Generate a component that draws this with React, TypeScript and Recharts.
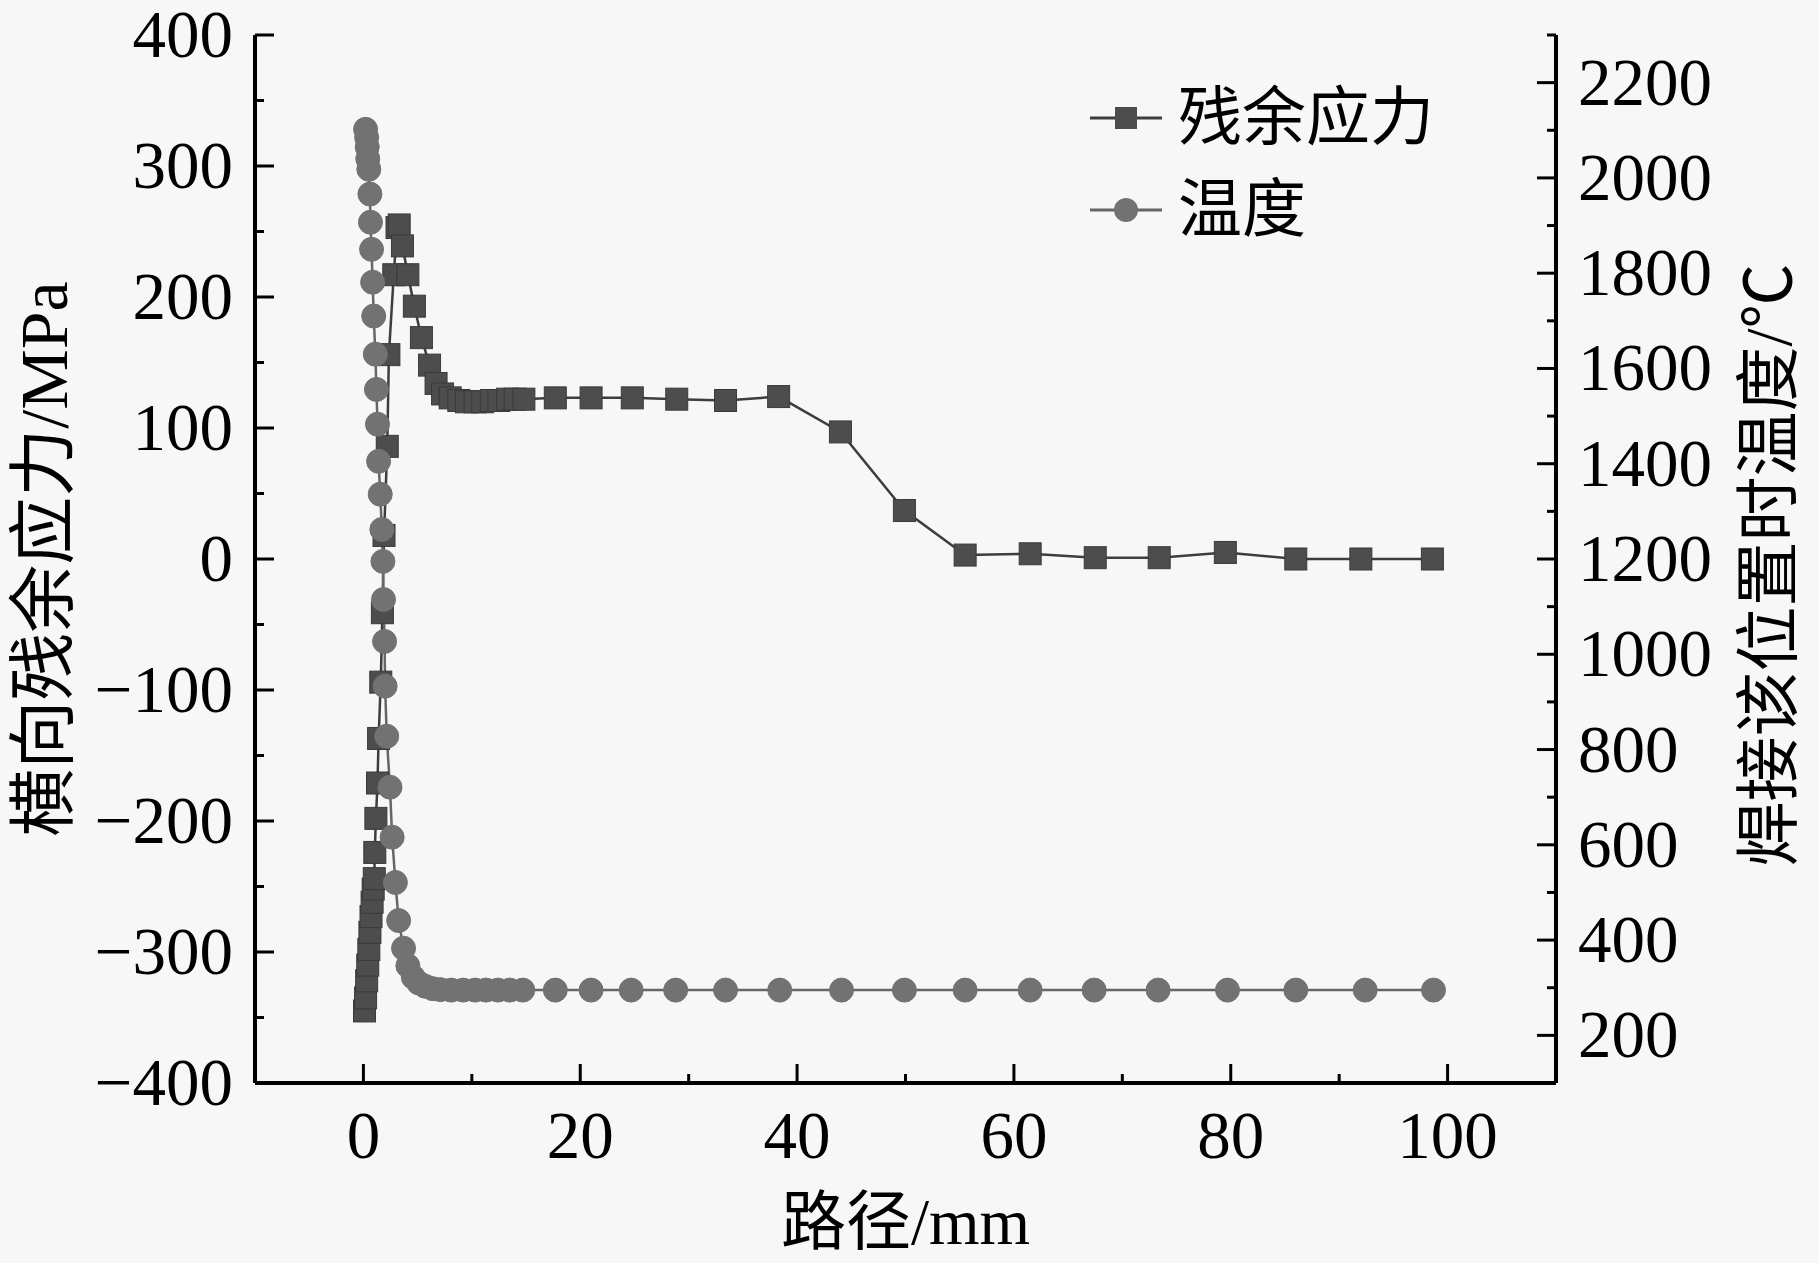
import { LineChart, Line, XAxis, YAxis, Legend } from 'recharts'

const FONT = '"Liberation Serif", "Times New Roman", "Noto Sans CJK SC", serif'

// 残余应力 (MPa) along the path (mm)
const stressX = [
  0.1, 0.2, 0.3, 0.4, 0.5, 0.6, 0.7, 0.8, 0.9, 1.0, 1.05, 1.15, 1.3, 1.4, 1.6, 1.75, 1.9, 2.2,
  2.35, 2.8, 3.1, 3.3, 3.6, 4.1, 4.7, 5.35, 6.1, 6.7, 7.3, 8.0, 8.8, 9.5, 10.3, 11.0, 11.8,
  12.5, 13.3, 14.0, 14.8, 17.7, 21.0, 24.8, 28.9, 33.4, 38.3, 44.0, 49.9, 55.5, 61.5, 67.5,
  73.4, 79.5, 86.0, 92.0, 98.6,
]
const stressY = [
  -345, -335, -322, -310, -298, -285, -273, -262, -252, -244, -224, -198, -171, -137, -94, -41,
  18, 86, 156, 217, 253, 255, 239, 217, 193, 169, 148, 134, 126, 123, 121, 120, 120, 120, 121,
  121, 122, 122, 122, 123, 123, 123, 122, 121, 124, 97, 37, 3, 4, 1, 1, 5, 0, 0, 0,
]

// 温度 (°C) along the path (mm)
const tempX = [
  0.2, 0.3, 0.35, 0.4, 0.5, 0.6, 0.65, 0.75, 0.85, 0.95, 1.1, 1.2, 1.3, 1.4, 1.55, 1.7, 1.8,
  1.85, 1.95, 2.0, 2.15, 2.45, 2.65, 2.95, 3.25, 3.7, 4.1, 4.6, 5.1, 5.7, 6.4, 7.1, 8.1, 9.2,
  10.3, 11.3, 12.4, 13.5, 14.7, 17.7, 21.0, 24.7, 28.8, 33.4, 38.4, 44.1, 49.9, 55.5, 61.5,
  67.4, 73.3, 79.7, 86.0, 92.4, 98.7,
]
const tempY = [
  2102, 2085, 2065, 2040, 2018, 1966, 1907, 1850, 1781, 1710, 1630, 1556, 1483, 1405, 1336,
  1262, 1195, 1115, 1027, 933, 828, 721, 616, 521, 441, 383, 346, 322, 310, 303, 298, 296, 295,
  295, 295, 295, 295, 295, 295, 295, 295, 295, 295, 295, 295, 295, 295, 295, 295, 295, 295,
  295, 295, 295, 295,
]

const xTicks = [-10, 0, 10, 20, 30, 40, 50, 60, 70, 80, 90, 100, 110]
const stressTicks = [-400, -350, -300, -250, -200, -150, -100, -50, 0, 50, 100, 150, 200, 250, 300, 350, 400]
const tempTicks = [100, 200, 300, 400, 500, 600, 700, 800, 900, 1000, 1100, 1200, 1300, 1400,
  1500, 1600, 1700, 1800, 1900, 2000, 2100, 2200, 2300]

const stressData = stressX.map((x, i) => ({ x, stress: stressY[i] }))
const tempData = tempX.map((x, i) => ({ x, temp: tempY[i] }))

const STRESS_COLOR = '#4d4d4d'
const STRESS_LINE = '#3d3d3d'
const TEMP_COLOR = '#727272'
const TEMP_LINE = '#666666'

const MAJOR = 19
const MINOR = 9
const TICK_FS = 67

function fmt(v: number) {
  return v < 0 ? `\u2212${-v}` : `${v}`
}

function BottomTick({ x, y, payload }: any) {
  const v = payload.value
  const major = v % 20 === 0
  return (
    <g>
      <line x1={x} x2={x} y1={y} y2={y - (major ? MAJOR : MINOR)} stroke="#000" strokeWidth={3} />
      {major && v >= 0 && v <= 100 && (
        <text x={x} y={y + 75} textAnchor="middle" fontSize={TICK_FS} fontFamily={FONT} fill="#000">
          {fmt(v)}
        </text>
      )}
    </g>
  )
}

function TopTick({ x, y, payload }: any) {
  const major = payload.value % 20 === 0
  return <line x1={x} x2={x} y1={y} y2={y + (major ? MAJOR : MINOR)} stroke="#000" strokeWidth={3} />
}

function LeftTick({ x, y, payload }: any) {
  const v = payload.value
  const major = v % 100 === 0
  return (
    <g>
      <line x1={x} x2={x + (major ? MAJOR : MINOR)} y1={y} y2={y} stroke="#000" strokeWidth={3} />
      {major && (
        <text x={x - 22} y={y + 22} textAnchor="end" fontSize={TICK_FS} fontFamily={FONT} fill="#000">
          {fmt(v)}
        </text>
      )}
    </g>
  )
}

function RightTick({ x, y, payload }: any) {
  const v = payload.value
  const major = v % 200 === 0
  return (
    <g>
      <line x1={x} x2={x - (major ? MAJOR : MINOR)} y1={y} y2={y} stroke="#000" strokeWidth={3} />
      {major && (
        <text x={x + 22} y={y + 22} textAnchor="start" fontSize={TICK_FS} fontFamily={FONT} fill="#000">
          {v}
        </text>
      )}
    </g>
  )
}

function SquareDot({ cx, cy, index }: any) {
  return (
    <rect key={`sq-${index}`} x={cx - 11} y={cy - 11} width={22} height={22}
      fill={STRESS_COLOR} stroke="#3a3a3a" strokeWidth={1} />
  )
}

function LegendBox() {
  const rows = [
    { name: '残余应力', color: STRESS_COLOR, line: STRESS_LINE, square: true },
    { name: '温度', color: TEMP_COLOR, line: TEMP_LINE, square: false },
  ]
  return (
    <div style={{ fontFamily: FONT, fontSize: 64, color: '#000' }}>
      {rows.map((r) => (
        <div key={r.name} style={{ display: 'flex', alignItems: 'center', height: 92 }}>
          <svg width={76} height={30} style={{ marginRight: 14 }}>
            <line x1={2} x2={74} y1={15} y2={15} stroke={r.line} strokeWidth={3} />
            {r.square ? (
              <rect x={27} y={4} width={22} height={22} fill={r.color} />
            ) : (
              <circle cx={38} cy={15} r={12} fill={r.color} />
            )}
          </svg>
          <span style={{ lineHeight: '92px' }}>{r.name}</span>
        </div>
      ))}
    </div>
  )
}

export default function App() {
  return (
    <div style={{ position: 'absolute', left: 0, top: 0, width: 1819, height: 1263, background: '#f7f7f7' }}>
      <LineChart width={1819} height={1263} margin={{ top: 35, right: 0, bottom: 80, left: 0 }}>
        <XAxis
          xAxisId="x"
          dataKey="x"
          type="number"
          domain={[-10, 110]}
          ticks={xTicks}
          interval={0}
          allowDataOverflow
          height={100}
          tickSize={0}
          tickMargin={0}
          tickLine={false}
          axisLine={{ stroke: '#000', strokeWidth: 4 }}
          tick={(p: any) => <BottomTick key={`b-${p.index}`} {...p} />}
          label={(p: any) => {
            const vb = p.viewBox
            return (
              <text x={vb.x + vb.width / 2} y={vb.y + 139} textAnchor="middle" dominantBaseline="central"
                fontSize={65} fontFamily={FONT} fill="#000">
                路径/mm
              </text>
            )
          }}
        />
        <XAxis
          xAxisId="top"
          orientation="top"
          type="number"
          domain={[-10, 110]}
          ticks={xTicks}
          interval={0}
          allowDataOverflow
          height={0}
          tickSize={0}
          tickMargin={0}
          tickLine={false}
          axisLine={{ stroke: '#000', strokeWidth: 4 }}
          tick={(p: any) => <TopTick key={`t-${p.index}`} {...p} />}
        />
        <YAxis
          yAxisId="s"
          type="number"
          domain={[-400, 400]}
          ticks={stressTicks}
          interval={0}
          allowDataOverflow
          width={255}
          tickSize={0}
          tickMargin={0}
          tickLine={false}
          axisLine={{ stroke: '#000', strokeWidth: 4 }}
          tick={(p: any) => <LeftTick key={`l-${p.index}`} {...p} />}
          label={(p: any) => {
            const vb = p.viewBox
            const cx = vb.x + 44
            const cy = vb.y + vb.height / 2
            return (
              <text x={cx} y={cy} transform={`rotate(-90 ${cx} ${cy})`} textAnchor="middle"
                dominantBaseline="central" fontSize={68} fontFamily={FONT} fill="#000">
                横向残余应力/MPa
              </text>
            )
          }}
        />
        <YAxis
          yAxisId="t"
          orientation="right"
          type="number"
          domain={[100, 2300]}
          ticks={tempTicks}
          interval={0}
          allowDataOverflow
          width={263}
          tickSize={0}
          tickMargin={0}
          tickLine={false}
          axisLine={{ stroke: '#000', strokeWidth: 4 }}
          tick={(p: any) => <RightTick key={`r-${p.index}`} {...p} />}
          label={(p: any) => {
            const vb = p.viewBox
            const cx = vb.x + 213
            const cy = vb.y + vb.height / 2 + 6
            return (
              <text x={cx} y={cy} transform={`rotate(-90 ${cx} ${cy})`} textAnchor="middle"
                dominantBaseline="central" fontSize={65} fontFamily={FONT} fill="#000">
                焊接该位置时温度/℃
              </text>
            )
          }}
        />
        <Legend
          layout="horizontal"
          verticalAlign="middle"
          align="center"
          content={<LegendBox />}
          wrapperStyle={{ position: 'absolute', left: 1088, top: 72, width: 'auto', height: 'auto' }}
        />
        <Line
          xAxisId="x"
          yAxisId="s"
          data={stressData}
          dataKey="stress"
          type="linear"
          stroke={STRESS_LINE}
          strokeWidth={2.5}
          dot={(p: any) => <SquareDot key={`sd-${p.index}`} {...p} />}
          activeDot={false}
          isAnimationActive={false}
        />
        <Line
          xAxisId="x"
          yAxisId="t"
          data={tempData}
          dataKey="temp"
          type="linear"
          stroke={TEMP_LINE}
          strokeWidth={2.5}
          dot={{ r: 12, fill: TEMP_COLOR, stroke: TEMP_COLOR, strokeWidth: 1 }}
          activeDot={false}
          isAnimationActive={false}
        />
      </LineChart>
    </div>
  )
}
